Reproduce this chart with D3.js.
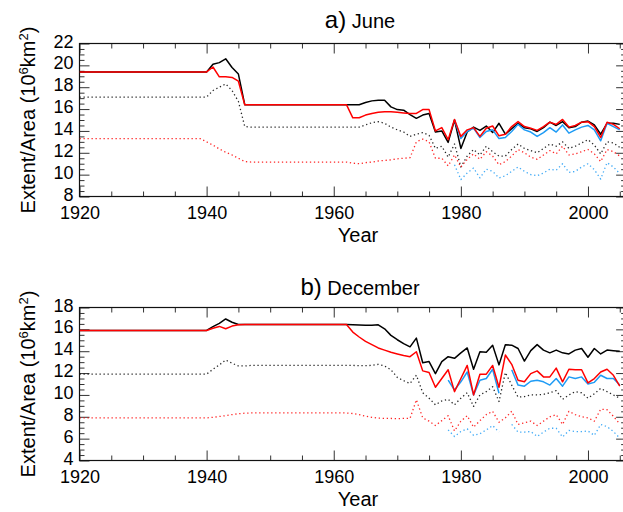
<!DOCTYPE html>
<html><head><meta charset="utf-8">
<script src="https://cdn.jsdelivr.net/npm/d3@7/dist/d3.min.js"></script>
<style>
html,body{margin:0;padding:0;background:#fff;}
svg{display:block;font-family:"Liberation Sans",Arial,Helvetica,sans-serif;}
</style></head>
<body>
<svg id="chart" width="623" height="512"></svg>
<script>
// ---------- DATA ----------
const years = [1920,1938,1939,1940,1941,1942,1943,1944,1945,1946,1947,
  1960,1961,1962,1963,1964,1965,1966,1967,1968,1969,
  1970,1971,1972,1973,1974,1975,1976,1977,1978,1979,
  1980,1981,1982,1983,1984,1985,1986,1987,1988,1989,
  1990,1991,1992,1993,1994,1995,1996,1997,1998,1999,
  2000,2001,2002,2003,2004,2005];
const satYearsJun = [1979,1980,1981,1982,1983,1984,1985,1986,1987,1988,1989,
  1990,1991,1992,1993,1994,1995,1996,1997,1998,1999,2000,2001,2002,2003,2004,2005];
const satYearsDec = [1978,1979,1980,1981,1982,1983,1984,1985,1986,1987,1988,1989,
  1990,1991,1992,1993,1994,1995,1996,1997,1998,1999,2000,2001,2002,2003,2004,2005];

// June
const junExtentBlack = [19.4, 19.4,19.4,19.4,20.1,20.25,20.6,19.8,19.2,16.4,16.4,
  16.4,16.4,16.4,16.4,16.4,16.6,16.75,16.8,16.8,16.2,
  15.95,15.9,15.5,15.15,15.45,15.6,13.9,14.0,12.95,15.0,
  12.4,13.9,14.35,14.05,14.45,13.85,14.7,13.7,14.2,14.7,
  14.3,14.2,13.95,14.3,14.8,14.5,14.85,14.3,14.4,14.8,
  14.9,14.55,13.7,14.7,14.7,14.6];
const junExtentRed = [19.4, 19.4,19.4,19.4,19.85,18.95,18.95,18.9,18.55,16.4,16.4,
  16.4,16.4,16.4,15.2,15.2,15.45,15.6,15.7,15.75,15.75,
  15.7,15.65,15.6,15.6,15.95,15.95,14.0,14.3,13.2,15.05,
  13.5,14.1,14.3,13.5,14.25,14.45,13.55,13.7,14.4,14.85,
  14.4,14.25,14.05,14.4,14.8,14.6,15.05,14.35,14.5,14.8,
  14.85,14.4,13.4,14.8,14.6,14.2];
const junExtentBlue = [15.0,13.3,13.95,14.25,13.4,13.95,14.1,13.3,13.4,13.95,14.6,
  14.1,13.9,13.5,13.85,14.3,13.9,14.55,13.8,14.1,14.35,14.5,14.1,13.1,14.7,14.4,14.1];
const junAreaBlack = [17.1, 17.1,17.1,17.1,17.7,18.0,18.3,17.7,16.7,14.4,14.35,
  14.35,14.35,14.35,14.35,14.35,14.55,14.75,14.85,14.7,14.35,
  14.1,13.9,13.5,13.7,13.85,13.6,12.4,12.6,11.6,12.8,
  10.7,11.7,12.3,11.8,12.6,12.1,11.7,11.7,12.3,12.8,
  12.4,12.2,12.0,12.4,12.8,12.6,13.0,12.4,12.6,12.9,
  13.2,12.7,11.9,13.0,12.9,12.5];
const junAreaRed = [13.3, 13.3,13.3,13.0,12.7,12.35,12.05,11.8,11.5,11.2,11.15,
  11.15,11.15,11.15,11.05,11.0,11.1,11.15,11.25,11.3,11.35,
  11.45,11.5,11.55,13.0,13.25,13.0,11.5,11.5,10.8,11.8,
  10.7,11.4,11.9,11.4,12.1,11.7,10.9,11.2,11.7,12.3,
  12.0,11.6,11.4,11.8,12.2,11.9,12.6,11.8,11.9,12.1,
  12.3,11.9,11.2,12.3,12.1,11.7];
const junAreaBlue = [10.9,9.55,10.15,10.6,9.7,10.5,10.3,9.7,9.9,10.3,10.7,
  10.3,10.0,9.9,10.15,10.5,10.4,11.0,10.2,10.3,10.7,11.0,10.45,9.6,11.1,10.7,10.1];

// December
const decExtentBlack = [15.9, 15.9,15.9,15.9,16.25,16.55,16.95,16.65,16.45,16.45,16.45,
  16.45,16.45,16.45,16.43,16.4,16.37,16.38,16.42,16.05,15.45,
  15.05,14.7,14.4,15.2,12.95,13.05,11.95,13.05,13.5,13.35,
  13.85,14.3,12.35,13.95,13.9,14.55,12.75,14.6,14.55,14.25,
  13.1,14.05,14.6,14.1,13.85,14.1,13.85,13.75,14.1,14.25,
  13.45,14.25,13.75,14.1,14.05,14.0];
const decExtentRed = [15.9, 15.9,15.9,15.9,16.1,16.27,16.05,16.3,16.42,16.45,16.45,
  16.45,16.45,16.45,15.75,15.3,14.9,14.6,14.3,14.1,13.9,
  13.75,13.6,13.5,13.95,12.2,12.05,10.7,11.5,12.3,10.3,
  11.5,12.7,10.0,11.9,11.9,12.7,10.7,13.65,12.8,11.35,
  11.2,11.95,12.2,11.65,11.65,12.45,11.2,12.35,12.3,12.3,
  11.1,11.5,12.1,12.35,11.8,10.8];
const decExtentBlue = [11.35,10.45,11.2,12.1,10.0,11.35,11.5,12.35,10.15,null,12.3,10.9,
  10.8,11.25,11.35,11.2,10.9,11.5,10.8,11.65,11.5,11.65,11.0,11.15,11.8,11.5,11.5,10.9];
const decAreaBlack = [11.9, 11.9,11.9,11.9,12.35,12.75,13.2,12.9,12.65,12.65,12.7,
  12.7,12.7,12.7,12.7,12.68,12.68,12.7,12.8,12.65,12.3,
  11.6,11.3,11.05,11.8,10.2,9.7,9.1,9.45,9.6,9.1,
  9.7,10.2,8.95,10.0,10.3,10.75,9.4,12.05,10.9,9.8,
  9.85,10.0,10.0,10.05,10.2,10.4,9.6,10.0,10.3,10.2,
  9.7,10.1,10.6,10.3,10.0,9.7];
const decAreaRed = [7.9, 7.9,7.9,7.9,7.95,8.03,8.1,8.2,8.28,8.33,8.35,
  8.35,8.35,8.35,8.3,8.2,8.05,7.95,7.88,7.85,7.85,
  7.82,7.85,7.85,9.55,7.9,7.6,7.2,7.65,8.1,6.7,
  7.6,8.1,7.05,7.65,8.2,8.5,7.5,7.9,8.5,7.3,
  7.45,7.6,7.2,7.6,8.0,8.2,7.3,8.5,8.2,8.0,
  7.9,7.6,8.7,8.65,8.05,7.35];
const decAreaBlue = [6.8,6.2,6.65,6.9,6.3,6.45,6.8,7.2,6.6,null,7.3,6.6,
  6.6,6.65,6.2,6.6,6.95,6.95,6.15,6.75,6.65,6.65,6.7,6.3,7.3,7.1,6.65,6.05];

const xTicksMajor = [1920,1940,1960,1980,2000];
const junYTicks = [8,10,12,14,16,18,20,22];
const decYTicks = [4,6,8,10,12,14,16,18];
const panelTitles = [["a)","June"],["b)","December"]];

// ---------- DRAW ----------
const svg = d3.select("#chart");
const BLACK="#000000", RED="#ff0000", BLUE="#1e9bf5";

const x = d3.scaleLinear().domain([1920,2006]).range([79.5, 79.5+86*6.356]);

const panels = [
  {top:43.5, bottom:196.5, dom:[8,22], ticks:junYTicks, title:panelTitles[0], titleY:28,
   series:[
    {xs:years, v:junAreaBlack, c:BLACK, dot:true},
    {xs:years, v:junAreaRed, c:RED, dot:true},
    {xs:satYearsJun, v:junAreaBlue, c:BLUE, dot:true},
    {xs:years, v:junExtentBlack, c:BLACK, dot:false},
    {xs:satYearsJun, v:junExtentBlue, c:BLUE, dot:false},
    {xs:years, v:junExtentRed, c:RED, dot:false}]},
  {top:307.5, bottom:460.5, dom:[4,18], ticks:decYTicks, title:panelTitles[1], titleY:295,
   series:[
    {xs:years, v:decAreaBlack, c:BLACK, dot:true},
    {xs:years, v:decAreaRed, c:RED, dot:true},
    {xs:satYearsDec, v:decAreaBlue, c:BLUE, dot:true},
    {xs:years, v:decExtentBlack, c:BLACK, dot:false},
    {xs:satYearsDec, v:decExtentBlue, c:BLUE, dot:false},
    {xs:years, v:decExtentRed, c:RED, dot:false}]}
];

const minorX = d3.range(1920, 2011, 5).filter(d => !xTicksMajor.includes(d));

panels.forEach(p => {
  const y = d3.scaleLinear().domain(p.dom).range([p.bottom, p.top]);
  const g = svg.append("g");
  const minorY = d3.range(p.dom[0], p.dom[1]+0.001, 0.5).filter(d => !p.ticks.includes(d));

  const styleAxis = (sel, labels) => {
    sel.select(".domain").remove();
    sel.selectAll(".tick line").attr("stroke","#333").attr("stroke-width",1);
    sel.selectAll("text").attr("fill","#000").style("font-size","18px")
       .style("font-family","'Liberation Sans',Arial,sans-serif");
    if (!labels) sel.selectAll("text").remove();
  };

  // bottom
  g.append("g").attr("transform",`translate(0,${p.bottom})`)
    .call(d3.axisBottom(x).tickValues(xTicksMajor).tickFormat(d3.format("d")).tickSize(-10).tickSizeOuter(0).tickPadding(9.5))
    .call(s => styleAxis(s, true));
  g.append("g").attr("transform",`translate(0,${p.bottom})`)
    .call(d3.axisBottom(x).tickValues(minorX).tickSize(-5).tickSizeOuter(0))
    .call(s => styleAxis(s, false));
  // top
  g.append("g").attr("transform",`translate(0,${p.top})`)
    .call(d3.axisTop(x).tickValues(xTicksMajor).tickSize(-10).tickSizeOuter(0))
    .call(s => styleAxis(s, false));
  g.append("g").attr("transform",`translate(0,${p.top})`)
    .call(d3.axisTop(x).tickValues(minorX).tickSize(-5).tickSizeOuter(0))
    .call(s => styleAxis(s, false));
  // left
  const la = g.append("g").attr("transform",`translate(${x(1920)},0)`)
    .call(d3.axisLeft(y).tickValues(p.ticks).tickFormat(d3.format("d")).tickSize(-10).tickSizeOuter(0).tickPadding(6))
    .call(s => styleAxis(s, true));
  la.selectAll("text").attr("dy","0.2em");
  g.append("g").attr("transform",`translate(${x(1920)},0)`)
    .call(d3.axisLeft(y).tickValues(minorY).tickSize(-5).tickSizeOuter(0))
    .call(s => styleAxis(s, false));
  // right
  g.append("g").attr("transform",`translate(${x(2006)},0)`)
    .call(d3.axisRight(y).tickValues(p.ticks).tickSize(-10).tickSizeOuter(0))
    .call(s => styleAxis(s, false));
  g.append("g").attr("transform",`translate(${x(2006)},0)`)
    .call(d3.axisRight(y).tickValues(minorY).tickSize(-5).tickSizeOuter(0))
    .call(s => styleAxis(s, false));

  // frame
  g.append("rect").attr("x",x(1920)).attr("y",p.top)
    .attr("width",x(2006)-x(1920)).attr("height",p.bottom-p.top)
    .attr("fill","none").attr("stroke","#111").attr("stroke-width",1.2);

  // series
  const clip = "clip"+p.top;
  svg.append("clipPath").attr("id",clip).append("rect")
    .attr("x",x(1920)).attr("y",p.top).attr("width",x(2006)-x(1920)).attr("height",p.bottom-p.top);
  const lg = g.append("g").attr("clip-path",`url(#${clip})`);
  p.series.forEach(s => {
    const pts = s.xs.map((yr,i)=>[yr, s.v[i]]);
    const line = d3.line().defined(d => d[1] != null).x(d => x(d[0])).y(d => y(d[1]));
    lg.append("path").attr("d", line(pts)).attr("fill","none")
      .attr("stroke", s.c)
      .attr("stroke-width", s.dot ? 1.3 : 1.5)
      .attr("stroke-dasharray", s.dot ? "1.3,2.7" : null)
      .attr("stroke-opacity", s.dot ? 0.85 : 1)
      .attr("stroke-linejoin","round");
  });

  // y label
  const cy = (p.top+p.bottom)/2;
  const yl = g.append("text").attr("transform",`translate(35,${cy}) rotate(-90)`)
    .attr("text-anchor","middle").style("font-size","20px").attr("fill","#000");
  yl.append("tspan").text("Extent/Area (10");
  yl.append("tspan").text("6").style("font-size","13px").attr("dy","-7");
  yl.append("tspan").text("km").attr("dy","7");
  yl.append("tspan").text("2").style("font-size","13px").attr("dy","-7");
  yl.append("tspan").text(")").attr("dy","7");

  // x label
  g.append("text").attr("x", 358).attr("y", p.bottom+45).attr("text-anchor","middle")
    .style("font-size","20px").attr("fill","#000").text("Year");

  // title
  const t = g.append("text").attr("x", 360).attr("y", p.titleY).attr("text-anchor","middle").attr("fill","#000");
  t.append("tspan").text(p.title[0]).style("font-size","24px");
  t.append("tspan").text(" "+p.title[1]).style("font-size","20px");
});
</script>
</body></html>
